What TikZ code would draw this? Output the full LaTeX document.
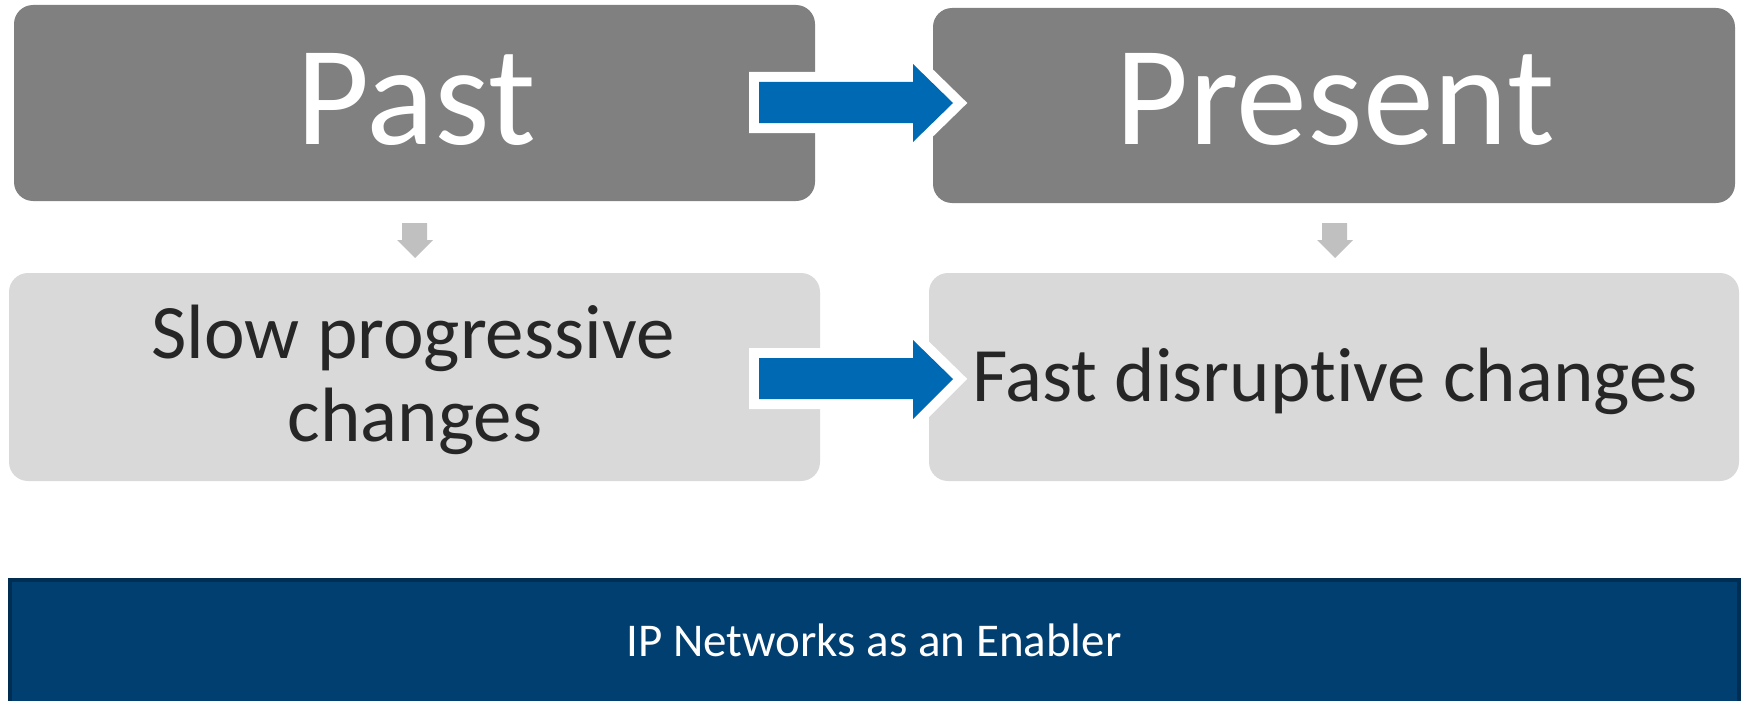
\documentclass[tikz,border=0pt]{standalone}
\usepackage{fontspec}
\setmainfont[Ligatures={NoCommon}]{Carlito}
\definecolor{boxgray}{HTML}{808080}
\definecolor{boxlight}{HTML}{D9D9D9}
\definecolor{arrowblue}{HTML}{0069B4}
\definecolor{navy}{HTML}{003F6F}
\definecolor{navyedge}{HTML}{002D52}
\definecolor{smallgray}{HTML}{C0C0C0}
\definecolor{darktext}{HTML}{262626}
\tikzset{
  topbox/.style={fill=boxgray, draw=none, rounded corners=19pt, rectangle},
  lowbox/.style={fill=boxlight, draw=none, rounded corners=19pt, rectangle},
  bigarrow/.style={fill=arrowblue, draw=none, preaction={draw=white, fill=white, line width=20pt, miter limit=10, line join=miter}},
  smallarrow/.style={fill=smallgray, draw=none},
  bigtxt/.style={text=white, font=\fontsize{142}{150}\selectfont, anchor=base, inner sep=0pt},
  midtxt/.style={text=darktext, font=\fontsize{77}{84}\selectfont, anchor=base, inner sep=0pt},
  bartxt/.style={text=white, font=\fontsize{47}{55}\selectfont, anchor=base, inner sep=0pt}
}
\begin{document}
\begin{tikzpicture}[x=1pt,y=-1pt]
\useasboundingbox (0,0) rectangle (1743,701);
% boxes
\path[topbox] (14,5) rectangle (815,201);
\node[inner sep=0pt, minimum width=801pt, minimum height=196pt] (past) at (414.5,103) {};
\path[topbox] (933,8) rectangle (1735,203);
\node[inner sep=0pt, minimum width=802pt, minimum height=195pt] (present) at (1334,105.5) {};
\path[lowbox] (9,273) rectangle (820,481);
\node[inner sep=0pt, minimum width=811pt, minimum height=208pt] (slow) at (414.5,377) {};
\path[lowbox] (929,273) rectangle (1739,481);
\node[inner sep=0pt, minimum width=810pt, minimum height=208pt] (fast) at (1334,377) {};
% bar
\fill[navyedge] (8,578) rectangle (1741,705);
\node[fill=navy, inner sep=0pt, minimum width=1725pt, minimum height=130pt, anchor=north west] (bar) at (12,582) {};
% texts
\node[bigtxt] (pastT) at (416,144) {Past};
\node[bigtxt] (presentT) at (1335,144) {Present};
\node[midtxt] (slowT1) at (413,358) {Slow progressive};
\node[midtxt] (slowT2) at (415,441) {changes};
\node[midtxt] (fastT) at (1335,401) {Fast disruptive changes};
\node[bartxt] (barT) at (874,656) {IP Networks as an Enabler};
% blue arrows
\path[bigarrow] (759,82) -- (913,82) -- (913,64) -- (953,103) -- (913,142) -- (913,123) -- (759,123) -- cycle;
\path[bigarrow] (759,358) -- (913,358) -- (913,340) -- (953,379) -- (913,419) -- (913,399) -- (759,399) -- cycle;
% small arrows
\fill[smallgray] (402,223) -- (427,223) -- (427,240) -- (433,240) -- (415,258) -- (397,240) -- (402,240) -- cycle;
\fill[smallgray] (1322,223) -- (1347,223) -- (1347,240) -- (1353,240) -- (1335,258) -- (1317,240) -- (1322,240) -- cycle;
\end{tikzpicture}
\end{document}
